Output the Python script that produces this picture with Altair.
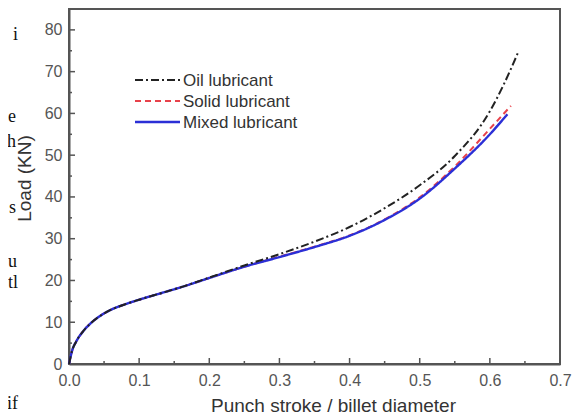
import altair as alt
import pandas as pd

# ---- data ----
series_names = ["Oil lubricant", "Solid lubricant", "Mixed lubricant"]

x_oil = [0, 0.005, 0.01, 0.02, 0.03, 0.04, 0.05, 0.06, 0.08, 0.1, 0.13, 0.16, 0.2, 0.25, 0.3, 0.35, 0.4, 0.45, 0.5, 0.55, 0.6, 0.62, 0.64]
y_oil = [0, 3.5, 5.3, 7.8, 9.6, 11.0, 12.1, 13.0, 14.3, 15.4, 16.9, 18.4, 20.7, 23.6, 26.3, 29.3, 32.8, 37.3, 42.8, 49.8, 60.5, 67.0, 74.5]

x_solid = [0, 0.005, 0.01, 0.02, 0.03, 0.04, 0.05, 0.06, 0.08, 0.1, 0.13, 0.16, 0.2, 0.25, 0.3, 0.35, 0.4, 0.45, 0.5, 0.55, 0.6, 0.63]
y_solid = [0, 3.5, 5.3, 7.8, 9.6, 11.0, 12.1, 13.0, 14.3, 15.4, 16.9, 18.4, 20.6, 23.3, 25.7, 28.1, 30.8, 34.6, 39.9, 47.3, 56.3, 61.8]

x_mixed = [0, 0.005, 0.01, 0.02, 0.03, 0.04, 0.05, 0.06, 0.08, 0.1, 0.13, 0.16, 0.2, 0.25, 0.3, 0.35, 0.4, 0.45, 0.5, 0.55, 0.6, 0.625]
y_mixed = [0, 3.5, 5.3, 7.8, 9.6, 11.0, 12.1, 13.0, 14.3, 15.4, 16.9, 18.4, 20.6, 23.3, 25.6, 28.0, 30.7, 34.5, 39.6, 46.8, 55.0, 59.8]

x_major = [0.0, 0.1, 0.2, 0.3, 0.4, 0.5, 0.6, 0.7]
x_minor = [0.05, 0.15, 0.25, 0.35, 0.45, 0.55, 0.65]
y_major = [0, 10, 20, 30, 40, 50, 60, 70, 80]
y_minor = [5, 15, 25, 35, 45, 55, 65, 75]

line_colors = ["#222222", "#e8414a", "#2b2fd6"]
line_dashes = [[8, 3, 2, 3], [6, 4], [1, 0]]
line_widths = [2, 2, 2.4]

# stray fragments of the surrounding page text (cut off in the scan)
frag_texts = ["i", "e", "h", "s", "u", "tl", "if"]

# ---- build tables ----
df = pd.concat([
    pd.DataFrame({"x": x_oil, "y": y_oil, "series": series_names[0]}),
    pd.DataFrame({"x": x_solid, "y": y_solid, "series": series_names[1]}),
    pd.DataFrame({"x": x_mixed, "y": y_mixed, "series": series_names[2]}),
], ignore_index=True)

W, H = 491, 355
xscale = alt.Scale(domain=[0, 0.7], nice=False, zero=False)
yscale = alt.Scale(domain=[0, 85], nice=False, zero=False)

xaxis = alt.Axis(values=x_major, format=".1f", title="Punch stroke / billet diameter",
                 tickSize=0, labelPadding=8, labelFlush=False, grid=False,
                 titleX=264, titleY=47, titleBaseline="alphabetic", titleAlign="center")
yaxis = alt.Axis(values=y_major, format="d", title="Load (KN)",
                 tickSize=0, labelPadding=7, labelFlush=False, grid=False,
                 titleX=-39, titleY=169, titleBaseline="alphabetic", titleAlign="center",
                 titleAngle=270)

def series_layer(i):
    name = series_names[i]
    return alt.Chart(df).transform_filter(alt.datum.series == name).mark_line(
        strokeWidth=line_widths[i], interpolate="monotone",
        color=line_colors[i], strokeDash=line_dashes[i],
    ).encode(
        x=alt.X("x:Q", scale=xscale, axis=xaxis),
        y=alt.Y("y:Q", scale=yscale, axis=yaxis),
    )

# legend (drawn inside the plot, top-left)
leg_y = [71, 92, 113]
legend_layers = []
for i, name in enumerate(series_names):
    d = pd.DataFrame({"label": [name]})
    legend_layers.append(
        alt.Chart(d).mark_rule(color=line_colors[i], strokeDash=line_dashes[i],
                               strokeWidth=line_widths[i]).encode(
            x=alt.value(66), x2=alt.value(111), y=alt.value(leg_y[i]))
    )
    legend_layers.append(
        alt.Chart(d).mark_text(align="left", baseline="middle", font="Liberation Sans",
                               fontSize=17, color="#333333").encode(
            text="label:N", x=alt.value(114), y=alt.value(leg_y[i] + 1))
    )

# inward ticks
tick_col = "#555555"
xmaj = alt.Chart(pd.DataFrame({"v": x_major})).mark_rule(color=tick_col, strokeWidth=1.5).encode(
    x=alt.X("v:Q", scale=xscale), y=alt.value(H), y2=alt.value(H - 6))
xmin = alt.Chart(pd.DataFrame({"v": x_minor})).mark_rule(color=tick_col, strokeWidth=1.5).encode(
    x=alt.X("v:Q", scale=xscale), y=alt.value(H), y2=alt.value(H - 3))
ymaj = alt.Chart(pd.DataFrame({"v": y_major})).mark_rule(color=tick_col, strokeWidth=1.5).encode(
    y=alt.Y("v:Q", scale=yscale), x=alt.value(0), x2=alt.value(6))
ymin = alt.Chart(pd.DataFrame({"v": y_minor})).mark_rule(color=tick_col, strokeWidth=1.5).encode(
    y=alt.Y("v:Q", scale=yscale), x=alt.value(0), x2=alt.value(3))

frag_y = [31, 113, 138, 204, 258, 279, 400]
frag_right = [-51, -53, -53, -53, -52, -51, -51]
frag_layers = [
    alt.Chart(pd.DataFrame({"t": [t]})).mark_text(
        font="Liberation Serif", fontSize=18, color="#111111", align="right", baseline="alphabetic"
    ).encode(text="t:N", x=alt.value(fx), y=alt.value(fy))
    for t, fx, fy in zip(frag_texts, frag_right, frag_y)
]

chart = alt.layer(
    xmaj, xmin, ymaj, ymin,
    series_layer(1), series_layer(2), series_layer(0),
    *legend_layers, *frag_layers
).properties(
    width=W, height=H,
    padding={"left": 61, "top": 1, "right": 12, "bottom": 52},
    autosize=alt.AutoSizeParams(type="none"),
).configure_view(
    stroke="#555555", strokeWidth=2
).configure_axis(
    domainColor="#555555", domainWidth=2,
    labelFont="Liberation Sans", labelFontSize=16, labelColor="#555555",
    titleFont="Liberation Sans", titleFontSize=19, titleFontWeight="normal", titleColor="#333333",
)

chart.save("out.html", embed_options={"renderer": "svg", "actions": False})
